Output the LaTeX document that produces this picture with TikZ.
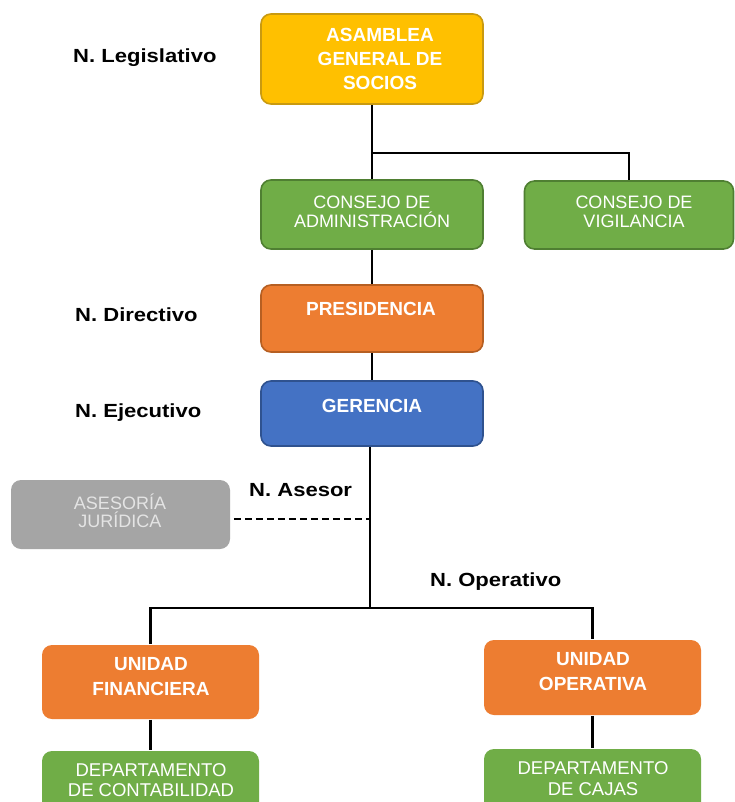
\documentclass[tikz,border=0pt]{standalone}
\usepackage{fontspec}
\setmainfont{Liberation Sans}
\newfontfamily\levelfont[FakeStretch=1.16]{Liberation Sans}

\definecolor{gold}{HTML}{FFC000}
\definecolor{goldline}{HTML}{C99A10}
\definecolor{leaf}{HTML}{70AD47}
\definecolor{leafline}{HTML}{4F7F32}
\definecolor{tang}{HTML}{ED7D31}
\definecolor{tangline}{HTML}{B65F22}
\definecolor{royal}{HTML}{4472C4}
\definecolor{royalline}{HTML}{2F528F}
\definecolor{stone}{HTML}{A5A5A5}
\definecolor{stonetext}{HTML}{E4E4E4}

\begin{document}
\begin{tikzpicture}[x=1pt,y=-1pt,
  orgbox/.style={rectangle, rounded corners=10pt, inner sep=0pt, line width=1.6pt},
  boxtext/.style={text=white, align=center, inner sep=0pt},
  bigtext/.style={boxtext, font=\bfseries\fontsize{19}{24}\selectfont},
  smalltext/.style={boxtext, font=\fontsize{18}{18.5}\selectfont},
  level/.style={font=\levelfont\bfseries\fontsize{19}{22}\selectfont, inner sep=0pt},
  link/.style={line width=2.8pt, draw=black},
  advice/.style={line width=2.6pt, draw=black, dash pattern=on 7pt off 4pt}
]
\clip (0,0) rectangle (735,802);
\fill[white] (0,0) rectangle (735,802);

% boxes
\node[orgbox, fill=gold, draw=goldline, minimum width=222pt, minimum height=90pt]
  (asam) at (372,59) {};
\node[bigtext] (asamt) at (380,59) {ASAMBLEA\\GENERAL DE\\SOCIOS};

\node[orgbox, fill=leaf, draw=leafline, minimum width=222pt, minimum height=69pt]
  (admin) at (372,214.5) {};
\node[smalltext] (admint) at (372,212) {CONSEJO DE\\ADMINISTRACIÓN};

\node[orgbox, fill=leaf, draw=leafline, minimum width=209pt, minimum height=68pt]
  (vig) at (629,215) {};
\node[smalltext] (vigt) at (634,212) {CONSEJO DE\\VIGILANCIA};

\node[orgbox, fill=tang, draw=tangline, minimum width=222pt, minimum height=67pt]
  (pres) at (372,318.5) {};
\node[bigtext] (prest) at (371,309) {PRESIDENCIA};

\node[orgbox, fill=royal, draw=royalline, minimum width=222pt, minimum height=65pt]
  (ger) at (372,413.5) {};
\node[bigtext] (gert) at (372,406) {GERENCIA};

\node[orgbox, fill=stone, minimum width=219pt, minimum height=69pt]
  (ases) at (120.5,514.5) {};
\node[smalltext, text=stonetext] (asest) at (120,511) {ASESORÍA\\JURÍDICA};

\node[orgbox, fill=tang, minimum width=217pt, minimum height=74pt]
  (uf) at (150.5,682) {};
\node[bigtext, font=\bfseries\fontsize{19}{25}\selectfont] (uft) at (151,677) {UNIDAD\\FINANCIERA};

\node[orgbox, fill=tang, minimum width=217pt, minimum height=75pt]
  (uo) at (592.5,677.5) {};
\node[bigtext, font=\bfseries\fontsize{19}{25}\selectfont] (uot) at (593,671.5) {UNIDAD\\OPERATIVA};

\node[orgbox, fill=leaf, minimum width=217pt, minimum height=80pt]
  (dc) at (150.5,791) {};
\node[smalltext, font=\fontsize{18.5}{20.5}\selectfont] (dct) at (151,780) {DEPARTAMENTO\\DE CONTABILIDAD};

\node[orgbox, fill=leaf, minimum width=217pt, minimum height=80pt]
  (dcaj) at (592.5,789) {};
\node[smalltext, font=\fontsize{18.5}{20.5}\selectfont] (dcajt) at (593,778.5) {DEPARTAMENTO\\DE CAJAS};

% level labels
\node[level, anchor=west] (lleg) at (73,58) {N. Legislativo};
\node[level, anchor=west] (ldir) at (75,315) {N. Directivo};
\node[level, anchor=west] (leje) at (75,413) {N. Ejecutivo};
\node[level, anchor=west] (lase) at (249,490) {N. Asesor};
\node[level, anchor=west] (lope) at (430,582) {N. Operativo};

% junction points
\coordinate (j1) at (372,153);
\coordinate (j2) at (370,519);
\coordinate (j3) at (370,608);

% connectors
\draw[link] (asam.south) -- (j1) -| (vig.north);
\draw[link] (j1) -- (admin.north);
\draw[link] (admin.south) -- (pres.north);
\draw[link] (pres.south) -- (ger.north);
\draw[link] (ger.south -| j3) -- (j3);
\draw[advice] ([xshift=3pt]ases.east |- j2) -- (j2);
\draw[link] (uf.north) |- (j3) -| (uo.north);
\draw[link] (uf.south) -- (dc.north);
\draw[link] (uo.south) -- (dcaj.north);
\end{tikzpicture}
\end{document}
